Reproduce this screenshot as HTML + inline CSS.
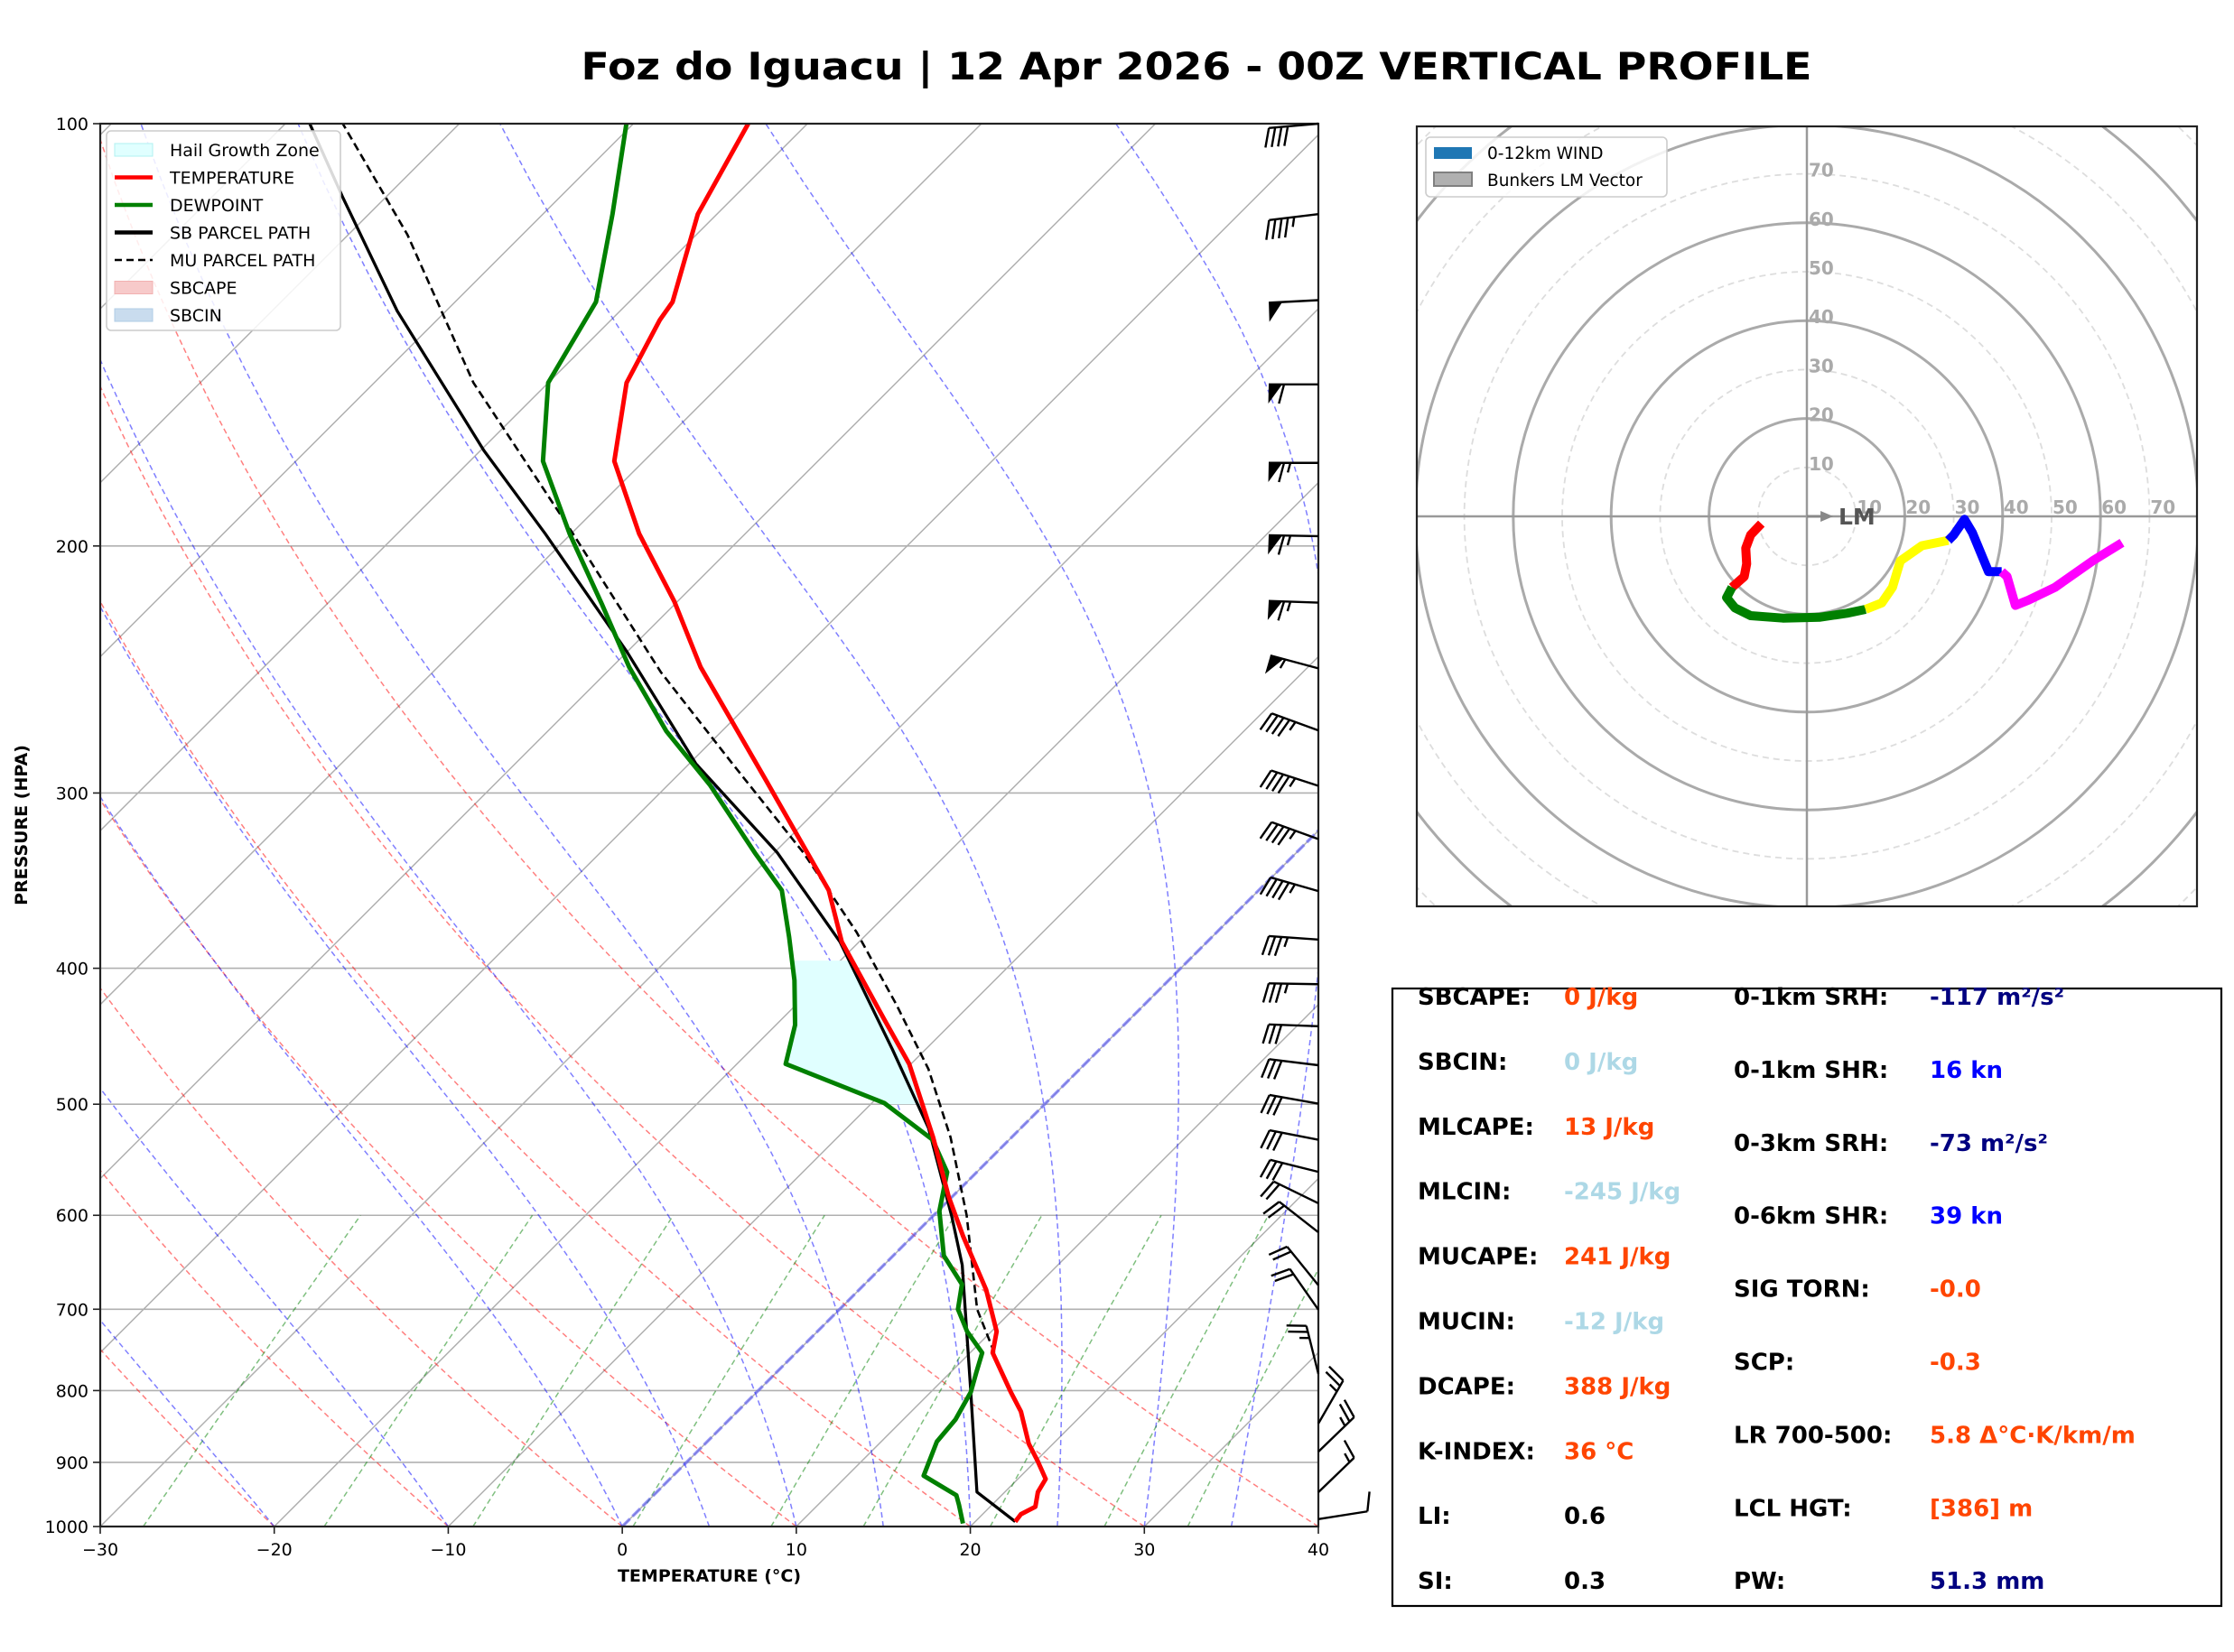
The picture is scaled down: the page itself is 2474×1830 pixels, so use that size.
<!DOCTYPE html>
<html><head><meta charset="utf-8"><style>
html,body{margin:0;padding:0;background:#fff}
svg{display:block}
text{font-family:"DejaVu Sans","Liberation Sans",sans-serif}
</style></head><body>
<svg id="root" xmlns="http://www.w3.org/2000/svg" width="2474" height="1830" viewBox="0 0 2474 1830">
<rect width="2474" height="1830" fill="#fff"/>
<defs>
<clipPath id="skewClip"><rect x="111" y="137" width="1349" height="1554"/></clipPath>
<clipPath id="hodoClip"><rect x="1569" y="140" width="864" height="864"/></clipPath>
</defs>
<text x="1325" y="88" text-anchor="middle" font-size="42" font-weight="bold" textLength="1363" lengthAdjust="spacingAndGlyphs">Foz do Iguacu | 12 Apr 2026 - 00Z VERTICAL PROFILE</text>
<g id="skew"></g>
<g id="barbs"></g>
<g id="hodo"></g>
<g id="stats"></g>
</svg>
<script>
// ---------- data ----------
const tempP = [992,980,968,945,925,898,873,828,802,752,726,678,621,582,528,468,435,383,352,294,244,219,196,174,153,138,134,116,100];
const tempT = [22.3,22.2,22.6,21.9,21.6,20.1,18.6,16.3,14.6,11.3,10.3,7.3,2.9,-0.2,-4.5,-10.1,-14.1,-21.0,-24.7,-34.6,-44.9,-50.2,-56.1,-61.7,-65.5,-67.2,-67.5,-71.1,-73.4];
const dewP = [995,965,950,920,870,839,802,777,752,726,700,672,641,596,559,530,499,468,439,408,380,352,331,296,271,244,220,196,174,153,134,116,100];
const dewT = [19.4,18.1,17.4,14.4,13.2,13.0,12.3,11.5,10.7,8.6,6.8,5.6,2.9,0.1,-1.7,-4.4,-9.3,-17.2,-18.9,-21.5,-24.3,-27.4,-31.1,-37.6,-43.2,-49.0,-54.2,-60.1,-65.8,-70.0,-71.9,-76.0,-80.4];
const sbP = [992,945,802,651,601,520,457,383,331,286,238,196,171,136,113,100];
const sbT = [22.3,18.4,12.3,4.5,1.1,-5.3,-11.9,-21.1,-29.8,-39.6,-50.0,-61.5,-69.8,-82.8,-92.4,-98.6];
const muP = [752,700,600,528,472,425,377,331,286,246,195,153,120,100];
const muT = [11.4,7.9,1.9,-3.5,-8.7,-14.2,-20.7,-28.3,-37.5,-46.9,-60.2,-74.3,-86.6,-96.7];
const hailTop = 395, hailBottom = 500;
const xTicks = [-30,-20,-10,0,10,20,30,40];
const pTicks = [100,200,300,400,500,600,700,800,900,1000];
const dryT0 = [-30,-20,-10,0,10,20,30,40];
const moistT0 = [-30,-20,-10,0,5,10,15,20,25,30,35,40];
const mixW = [0.0004,0.001,0.002,0.004,0.007,0.01,0.016,0.024,0.032];
const windP = [100,116,133.6,153.4,174.5,196.8,219.5,244.5,270.7,296.5,323.6,352.4,381.6,410.6,439.9,469,499.5,530,558.7,588.3,617,673,700.5,778.5,844.4,884.4,945.3,988];
const windSpd = [40,45,50,60,65,65,65,55,45,45,45,45,35,35,30,30,30,30,30,20,20,20,20,25,25,25,15,10];
const windDir = [265,263,267,270,270,271,272,285,290,288,290,286,274,271,272,277,280,281,284,296,308,321,325,346,30,46,46,81];
const hodoU = [-9.3,-11.5,-12.5,-12.3,-12.8,-15.3,-16.4,-14.7,-11.5,-4.9,2.7,8.2,12.0,15.3,17.5,19.1,23.5,28.9,30.0,32.2,33.8,37.1,39.8,40.9,42.6,45.3,50.7,58.4,64.4];
const hodoV = [-1.5,-3.8,-6.5,-9.7,-12.3,-14.5,-16.6,-18.7,-20.3,-20.8,-20.6,-19.8,-19.0,-17.7,-14.5,-9.1,-6.0,-4.9,-3.8,-0.6,-3.3,-11.3,-11.3,-12.3,-18.2,-17.1,-14.5,-9.1,-5.4];
const hodoSegEnd = [5,12,17,22,28];
const hodoSegColor = ['#ff0000','#008000','#ffff00','#0000ff','#ff00ff'];
const lmU = 5, lmV = 0;
const ringLabels = [10,20,30,40,50,60,70];
const statsLeftLabels = ['SBCAPE:','SBCIN:','MLCAPE:','MLCIN:','MUCAPE:','MUCIN:','DCAPE:','K-INDEX:','LI:','SI:'];
const statsLeftValues = ['0 J/kg','0 J/kg','13 J/kg','-245 J/kg','241 J/kg','-12 J/kg','388 J/kg','36 °C','0.6','0.3'];
const statsLeftColors = ['#ff4500','#add8e6','#ff4500','#add8e6','#ff4500','#add8e6','#ff4500','#ff4500','#000','#000'];
const statsRightLabels = ['0-1km SRH:','0-1km SHR:','0-3km SRH:','0-6km SHR:','SIG TORN:','SCP:','LR 700-500:','LCL HGT:','PW:'];
const statsRightValues = ['-117 m²/s²','16 kn','-73 m²/s²','39 kn','-0.0','-0.3','5.8 Δ°C·K/km/m','[386] m','51.3 mm'];
const statsRightColors = ['#000080','#0000ff','#000080','#0000ff','#ff4500','#ff4500','#ff4500','#ff4500','#000080'];

// ---------- helpers ----------
const NS = 'http://www.w3.org/2000/svg';
function mk(parent, tag, attrs, txt){const e=document.createElementNS(NS,tag);for(const k in attrs)e.setAttribute(k,attrs[k]);if(txt!==undefined)e.textContent=txt;parent.appendChild(e);return e;}
const X0=111,X1=1460,Y0=137,Y1=1691,KX=(X1-X0)/70;
function yOf(p){return Y1-(Y1-Y0)*Math.log10(1000/p);}
function xOf(T,p){return X0+(T+30)*KX+(Y1-yOf(p));}
function pathFrom(P,T){let d='';for(let i=0;i<P.length;i++){d+=(i?'L':'M')+xOf(T[i],P[i]).toFixed(1)+','+yOf(P[i]).toFixed(1);}return d;}
function interp(P,T,p){
  for(let i=0;i<P.length-1;i++){ if(p<=P[i]&&p>=P[i+1]){const f=(Math.log(P[i])-Math.log(p))/(Math.log(P[i])-Math.log(P[i+1]));return T[i]+f*(T[i+1]-T[i]);}}
  return p>P[0]?T[0]:T[T.length-1];
}

// ---------- skew-T ----------
const skew=document.getElementById('skew');
const cg=mk(skew,'g',{'clip-path':'url(#skewClip)'});


pTicks.forEach(p=>{const l=mk(cg,'line',{x1:X0,x2:X1,y1:yOf(p),y2:yOf(p),stroke:'#b0b0b0','stroke-width':1.6});

});
for(let T=-160;T<=40;T+=10){const l=mk(cg,'line',{x1:xOf(T,1000),y1:Y1,x2:xOf(T,100),y2:Y0,stroke:'#b0b0b0','stroke-width':1.5});

}
dryT0.forEach(t0=>{let d='';for(let p=1000;p>=100;p-=10){const T=(t0+273.15)*Math.pow(p/1000,0.2857)-273.15;d+=(p===1000?'M':'L')+xOf(T,p).toFixed(1)+','+yOf(p).toFixed(1);}
const e=mk(cg,'path',{d:d,fill:'none',stroke:'#ff0000','stroke-opacity':0.5,'stroke-width':1.5,'stroke-dasharray':'6,4'});

});
function dTdp(T,p){const Rd=287.04,cp=1005.7,Lv=2.501e6,eps=0.622;const es=6.112*Math.exp(17.67*(T-273.15)/(T-29.65));const rs=eps*es/(p-es);return (Rd*T+Lv*rs)/(p*(cp+Lv*Lv*rs*eps/(Rd*T*T)));}
moistT0.forEach(t0=>{let T=t0+273.15,p=1000,d='M'+xOf(t0,1000).toFixed(1)+','+Y1;const dp=-2;
 while(p>100){const k1=dTdp(T,p);const k2=dTdp(T+k1*dp/2,p+dp/2);T+=k2*dp;p+=dp;if(p%10===0)d+='L'+xOf(T-273.15,p).toFixed(1)+','+yOf(p).toFixed(1);}
 const e=mk(cg,'path',{d:d,fill:'none',stroke:'#0000ff','stroke-opacity':0.5,'stroke-width':1.5,'stroke-dasharray':'6,4'});
 
 });
mixW.forEach(w=>{let d='';for(let p=1000;p>=600;p-=20){const e=p*w/(0.622+w);const L=Math.log(e/6.112);const Td=243.5*L/(17.67-L);d+=(p===1000?'M':'L')+xOf(Td,p).toFixed(1)+','+yOf(p).toFixed(1);}
const e=mk(cg,'path',{d:d,fill:'none',stroke:'#008000','stroke-opacity':0.5,'stroke-width':1.5,'stroke-dasharray':'6,4'});

});
{const e=mk(cg,'line',{x1:xOf(0,1000),y1:Y1,x2:xOf(0,100),y2:Y0,stroke:'#5050ff','stroke-opacity':0.55,'stroke-width':3.5,'stroke-dasharray':'12,4'});

}
{let pts=[];for(let p=hailBottom;p>=hailTop;p-=5)pts.push([xOf(interp(tempP,tempT,p),p),yOf(p)]);
 for(let p=hailTop;p<=hailBottom;p+=5)pts.push([xOf(interp(dewP,dewT,p),p),yOf(p)]);
 const e=mk(cg,'polygon',{points:pts.map(a=>a[0].toFixed(1)+','+a[1].toFixed(1)).join(' '),fill:'#e0ffff',stroke:'none'});
 
 }
{const e=mk(cg,'path',{d:pathFrom(muP,muT),fill:'none',stroke:'#000','stroke-width':2.6,'stroke-dasharray':'9,5'});

}
{const e=mk(cg,'path',{d:pathFrom(sbP,sbT),fill:'none',stroke:'#000','stroke-width':3.3,'stroke-linejoin':'round'});

}
{const e=mk(cg,'path',{d:pathFrom(dewP,dewT),fill:'none',stroke:'#008000','stroke-width':5,'stroke-linejoin':'round'});

}
{const e=mk(cg,'path',{d:pathFrom(tempP,tempT),fill:'none',stroke:'#ff0000','stroke-width':5,'stroke-linejoin':'round'});

}
{const e=mk(skew,'rect',{x:X0,y:Y0,width:X1-X0,height:Y1-Y0,fill:'none',stroke:'#222','stroke-width':2.2});

}
xTicks.forEach(t=>{const x=X0+(t+30)*KX;mk(skew,'line',{x1:x,x2:x,y1:Y1,y2:Y1+8,stroke:'#222','stroke-width':1.6});
const e=mk(skew,'text',{x:x,y:Y1+32,'text-anchor':'middle','font-size':19},(t<0?'\u2212':'')+Math.abs(t));

});
pTicks.forEach(p=>{const y=yOf(p);mk(skew,'line',{x1:X0-8,x2:X0,y1:y,y2:y,stroke:'#222','stroke-width':1.6});
const e=mk(skew,'text',{x:X0-13,y:y+7,'text-anchor':'end','font-size':19},String(p));

});
{const e=mk(skew,'text',{x:(X0+X1)/2,y:1752,'text-anchor':'middle','font-size':19,'font-weight':'bold'},'TEMPERATURE (°C)');

}
{const e=mk(skew,'text',{x:0,y:0,'text-anchor':'middle','font-size':19,'font-weight':'bold',transform:'translate(30,914) rotate(-90)'},'PRESSURE (HPA)');

}
{const lg=mk(skew,'g',{});


mk(lg,'rect',{x:118,y:145,width:259,height:221,rx:5,fill:'#fff','fill-opacity':0.85,stroke:'#ccc','stroke-width':1.6});
const items=[['patch','#e0ffff','#b0f0f0','Hail Growth Zone'],['line','#ff0000','','TEMPERATURE'],['line','#008000','','DEWPOINT'],['line','#000','','SB PARCEL PATH'],['dash','#000','','MU PARCEL PATH'],['patch','#f7caca','#f2b0b0','SBCAPE'],['patch','#c9dcee','#b0cce6','SBCIN']];
items.forEach((it,i)=>{const y=166+i*30.5;
 if(it[0]==='patch')mk(lg,'rect',{x:127,y:y-7,width:42,height:14,fill:it[1],stroke:it[2],'stroke-width':1});
 else mk(lg,'line',{x1:127,x2:169,y1:y,y2:y,stroke:it[1],'stroke-width':it[0]==='dash'?2.6:4.5,'stroke-dasharray':it[0]==='dash'?'8,5':'none'});
 const t=mk(lg,'text',{x:188,y:y+7,'font-size':19},it[3]);
 
 });}

// ---------- wind barbs ----------
const bg=document.getElementById('barbs');
const L=55,SP=7,BL=22,PW=15,ang=-75*Math.PI/180;
windP.forEach((p,i)=>{const ox=X1,oy=yOf(p);const dr=windDir[i]*Math.PI/180;
 const sx=Math.sin(dr),sy=-Math.cos(dr);const tx=ox+L*sx,ty=oy+L*sy;
 const bx=sx*Math.cos(ang)-sy*Math.sin(ang),by=sx*Math.sin(ang)+sy*Math.cos(ang);
 const g=mk(bg,'g',{});
 
 
 mk(g,'line',{x1:ox,y1:oy,x2:tx,y2:ty,stroke:'#000','stroke-width':2.4});
 let s=Math.round(windSpd[i]/5)*5;let n50=Math.floor(s/50);s-=n50*50;let n10=Math.floor(s/10);s-=n10*10;let n5=s>=5?1:0;
 let d=0;const P=k=>[tx-sx*k,ty-sy*k];
 for(let k=0;k<n50;k++){const a=P(d),c=P(d+PW);const m=P(d+PW*0.35);mk(g,'polygon',{points:`${a[0]},${a[1]} ${m[0]+bx*BL},${m[1]+by*BL} ${c[0]},${c[1]}`,fill:'#000'});d+=PW+2;}
 for(let k=0;k<n10;k++){const a=P(d);mk(g,'line',{x1:a[0],y1:a[1],x2:a[0]+bx*BL,y2:a[1]+by*BL,stroke:'#000','stroke-width':2.4});d+=SP;}
 if(n5){if(n50+n10===0)d+=SP;const a=P(d);mk(g,'line',{x1:a[0],y1:a[1],x2:a[0]+bx*BL/2,y2:a[1]+by*BL/2,stroke:'#000','stroke-width':2.4});}
});

// ---------- hodograph ----------
const hg=document.getElementById('hodo');
const HX=2001,HY=572,HK=5.42;
const hc=mk(hg,'g',{'clip-path':'url(#hodoClip)'});
for(let r=10;r<=110;r+=10){const solid=r%20===0;const c=mk(hc,'circle',{cx:HX,cy:HY,r:r*HK,fill:'none',stroke:solid?'#aaaaaa':'#dddddd','stroke-width':solid?3:1.8,'stroke-dasharray':solid?'none':'7,5'});

}
mk(hc,'line',{x1:1569,x2:2433,y1:HY,y2:HY,stroke:'#999','stroke-width':2.5});
mk(hc,'line',{x1:HX,x2:HX,y1:140,y2:1004,stroke:'#999','stroke-width':2.5});
ringLabels.forEach(r=>{
 const a=mk(hc,'text',{x:HX+2,y:HY-r*HK+3,'font-size':20,'font-weight':'bold',fill:'#aaaaaa'},String(r));
 
 
 const b=mk(hc,'text',{x:HX+r*HK+1,y:HY-3,'font-size':20,'font-weight':'bold',fill:'#aaaaaa'},String(r));
 
 });
{const ex=HX+lmU*HK,ey=HY-lmV*HK;const e=mk(hc,'g',{});


mk(e,'line',{x1:HX,y1:HY,x2:ex-8,y2:ey,stroke:'#888','stroke-width':3});
mk(e,'polygon',{points:`${ex+2},${ey} ${ex-12},${ey-6} ${ex-12},${ey+6}`,fill:'#888'});
mk(e,'text',{x:HX+35,y:HY+9,'font-size':25,'font-weight':'bold',fill:'#555'},'LM');}
let start=0;hodoSegEnd.forEach((end,si)=>{let d='';for(let i=start;i<=end;i++){d+=(i===start?'M':'L')+(HX+hodoU[i]*HK).toFixed(1)+','+(HY-hodoV[i]*HK).toFixed(1);}
 const e=mk(hc,'path',{d:d,fill:'none',stroke:hodoSegColor[si],'stroke-width':10,'stroke-linejoin':'round'});
 
 start=end;});
{const e=mk(hg,'rect',{x:1569,y:140,width:864,height:864,fill:'none',stroke:'#222','stroke-width':2.2});

}
{const lg=mk(hg,'g',{});


mk(lg,'rect',{x:1579,y:152,width:267,height:66,rx:5,fill:'#fff','fill-opacity':0.85,stroke:'#ccc','stroke-width':1.6});
mk(lg,'rect',{x:1588,y:163,width:42,height:13,fill:'#1f77b4'});
mk(lg,'rect',{x:1588,y:191,width:42,height:15,fill:'#b0b0b0',stroke:'#808080','stroke-width':2});
const a=mk(lg,'text',{x:1647,y:176,'font-size':18.5},'0-12km WIND');


const b=mk(lg,'text',{x:1647,y:206,'font-size':18.5},'Bunkers LM Vector');

}

// ---------- stats ----------
const st=document.getElementById('stats');
mk(st,'rect',{x:1542,y:1095,width:918,height:684,fill:'#fff',stroke:'#000','stroke-width':2.2});
statsLeftLabels.forEach((lab,i)=>{const y=1104+i*71.9+9;
 const a=mk(st,'text',{x:1570,y:y,'font-size':26,'font-weight':'bold'},lab);
 
 
 const b=mk(st,'text',{x:1732,y:y,'font-size':26,'font-weight':'bold',fill:statsLeftColors[i]},statsLeftValues[i]);
 
 });
statsRightLabels.forEach((lab,i)=>{const y=1104+i*80.9+9;
 const a=mk(st,'text',{x:1920,y:y,'font-size':26,'font-weight':'bold'},lab);
 
 
 const b=mk(st,'text',{x:2137,y:y,'font-size':26,'font-weight':'bold',fill:statsRightColors[i]},statsRightValues[i]);
 
 });
</script>
</body></html>
